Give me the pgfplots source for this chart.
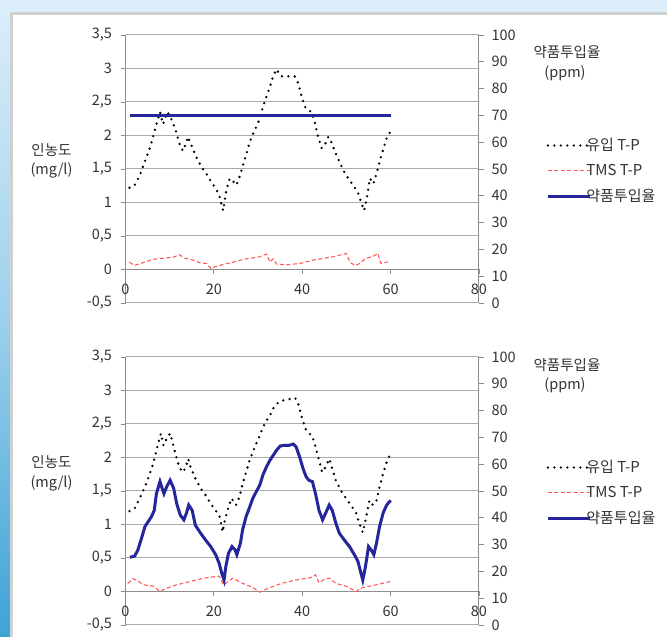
\documentclass[border=0pt]{standalone}
\usepackage{pgfplots}
\pgfplotsset{compat=1.18}
\usepackage{fontspec}
\setmainfont{Noto Sans CJK KR}
\definecolor{bgblue}{HTML}{DCEEFA}
\definecolor{leftdark}{HTML}{3EA3D6}
\definecolor{gridgray}{HTML}{AAAAAA}
\definecolor{axgray}{HTML}{8C8C8C}
\definecolor{navy}{HTML}{25259C}
\definecolor{tmsred}{HTML}{FF5A5A}
\definecolor{txt}{HTML}{333333}
\definecolor{bordergray}{HTML}{D0D0D0}

\pgfplotsset{
  base/.style={scale only axis, width=353.5pt, height=268pt, xmin=0, xmax=80, clip=false,
    tick label style={font=\fontsize{14.5}{16}\selectfont, text=txt},
    /pgf/number format/assume math mode=true, /pgf/number format/use comma,
    major tick length=5pt, tick align=outside, tick style={axgray, line width=0.8pt},
    axis line style={axgray, line width=1pt}},
  leftax/.style={base, ymin=-0.5, ymax=3.5, ytick={-0.5,0,0.5,1,1.5,2,2.5,3,3.5},
    xtick={0,20,40,60,80}, hide obscured x ticks=false, hide obscured y ticks=false,
    axis y line*=left, axis x line*=middle, ymajorgrids, grid style={gridgray, line width=1pt},
    yticklabel style={/pgf/number format/fixed, /pgf/number format/precision=1, xshift=-5pt},
    xticklabel style={yshift=-6pt}},
  rightax/.style={base, ymin=0, ymax=100, ytick={0,10,...,100}, axis y line*=right,
    axis x line=none, yticklabel style={xshift=4pt},
    legend style={draw=none, fill=none, anchor=north west, inner sep=0pt,
      font=\fontsize{15}{17}\selectfont, text=txt, row sep=8pt, column sep=-7pt,
      nodes={inner sep=2pt}},
    legend cell align=left,
    legend image code/.code={\draw[##1] (0pt,0pt) -- (42pt,0pt);}},
  tpin/.style={black, line width=2.6pt, line cap=round, dash pattern=on 0pt off 6.5pt},
  tms/.style={tmsred, line width=1.1pt, dash pattern=on 4pt off 2.5pt},
  dose/.style={navy, line width=3pt},
}

\begin{document}
\begin{tikzpicture}[x=1pt,y=1pt]
% background
\fill[bgblue] (0,0) rectangle (667,637);
\shade[top color=bgblue, bottom color=leftdark, middle color=bgblue!60!leftdark] (0,0) rectangle (10,637);
\fill[white] (10,0) rectangle (667,624.5);
\draw[bordergray, line width=2.5pt] (11.25,0) -- (11.25,623.25) -- (667,623.25);

% ===== TOP PANEL =====
\begin{axis}[leftax, at={(125.5pt,334pt)}, anchor=south west]
\addplot[tpin] coordinates {(0.9,1.22)(2,1.25)(3.2,1.40)(4.3,1.6)(5.3,1.77)(6.2,1.97)(7,2.17)(7.8,2.35)(8.5,2.17)(9.5,2.35)(10.4,2.24)(11.3,2.09)(12.2,1.88)(13,1.77)(13.8,1.9)(14.1,1.98)(14.9,1.86)(16,1.68)(17.2,1.53)(18.3,1.43)(19.4,1.31)(20.6,1.19)(21.3,1.08)(22.1,0.88)(22.8,1.18)(23.6,1.36)(24.3,1.32)(25.1,1.26)(25.8,1.38)(26.6,1.56)(27.4,1.73)(28.1,1.9)(28.9,2.03)(29.6,2.13)(30.4,2.25)(31.1,2.43)(31.9,2.58)(32.7,2.73)(33.4,2.88)(34.2,2.99)(34.9,2.9)(35.5,2.88)(36.3,2.88)(37.6,2.89)(38.3,2.88)(39.1,2.78)(39.8,2.6)(40.6,2.43)(41.3,2.38)(42.1,2.35)(42.9,2.18)(43.6,1.98)(44.4,1.81)(45.1,1.86)(45.9,1.98)(46.6,1.9)(47.4,1.76)(48.4,1.61)(49.3,1.48)(50.4,1.36)(51.5,1.26)(52.7,1.13)(53.4,0.99)(54,0.88)(54.6,1.06)(55.3,1.36)(56.1,1.28)(56.8,1.43)(57.6,1.63)(58.4,1.81)(59.1,1.96)(59.9,2.05)};
\addplot[tms] coordinates {(0.9,0.11)(2,0.06)(3.9,0.10)(6.2,0.15)(8.5,0.17)(10.7,0.18)(12.2,0.22)(13.4,0.17)(15.3,0.14)(16.8,0.10)(18.3,0.09)(19.4,0.01)(20.2,0.04)(21.3,0.06)(24.3,0.11)(27.4,0.16)(30.4,0.19)(31.9,0.23)(32.7,0.11)(33.4,0.16)(34.2,0.08)(36.4,0.07)(39.5,0.09)(42.5,0.14)(47,0.19)(50,0.24)(50.8,0.11)(51.9,0.06)(53.1,0.09)(54.2,0.16)(56.1,0.2)(57.1,0.24)(57.8,0.09)(59.1,0.11)(59.9,0.12)};
\end{axis}
\begin{axis}[rightax, at={(125.5pt,334pt)}, anchor=south west,
  legend style={at={(1.19,0.622)}}]
\addlegendimage{tpin}\addlegendentry{유입 T-P}
\addlegendimage{tms}\addlegendentry{TMS T-P}
\addplot[dose] coordinates {(1,70)(60,70)};
\addlegendentry{약품투입율}
\end{axis}

% ===== BOTTOM PANEL =====
\begin{axis}[leftax, at={(125.5pt,12pt)}, anchor=south west]
\addplot[tpin] coordinates {(0.9,1.2)(2.1,1.24)(3.2,1.39)(4.4,1.56)(5.5,1.76)(6.3,1.91)(7,2.11)(7.7,2.28)(8,2.36)(8.6,2.18)(9.3,2.28)(10.1,2.36)(10.9,2.16)(11.8,1.93)(12.8,1.78)(13.5,1.83)(14.2,1.98)(14.7,1.86)(15.8,1.69)(17,1.54)(18.1,1.44)(19.3,1.31)(20.4,1.21)(21.3,1.12)(22,0.89)(22.5,1.07)(23.3,1.26)(24,1.39)(25,1.29)(25.8,1.41)(26.5,1.61)(27.3,1.78)(28.1,1.96)(28.8,2.08)(29.6,2.21)(30.4,2.33)(31.1,2.45)(31.9,2.55)(32.7,2.63)(33.4,2.73)(34.2,2.8)(35.3,2.85)(36.5,2.86)(37.6,2.88)(38.4,2.89)(39.2,2.78)(39.9,2.6)(40.7,2.43)(41.5,2.36)(42.2,2.33)(43,2.16)(43.8,1.96)(44.5,1.78)(45.3,1.86)(46.1,1.98)(46.8,1.83)(47.6,1.66)(48.7,1.51)(49.9,1.39)(51,1.29)(52.2,1.17)(52.9,1.02)(53.7,0.88)(54.5,1.12)(55.2,1.36)(56,1.29)(56.8,1.36)(57.5,1.56)(58.3,1.76)(59.1,1.93)(60,2.06)};
\addplot[tms] coordinates {(0.5,0.12)(1.7,0.19)(2.8,0.16)(4,0.1)(6.3,0.08)(7.8,0.0)(9.3,0.05)(11.6,0.1)(14.7,0.15)(17.7,0.2)(21.2,0.23)(22.2,0.1)(23.5,0.16)(24.3,0.2)(26.2,0.13)(28.5,0.07)(30.4,-0.01)(32.3,0.05)(35.3,0.12)(38.4,0.17)(42.2,0.21)(43,0.25)(43.8,0.13)(44.9,0.18)(46.1,0.2)(47.6,0.12)(49.9,0.08)(52.2,0.0)(53.3,0.05)(54.5,0.07)(56.8,0.1)(60,0.15)};
\end{axis}
\begin{axis}[rightax, at={(125.5pt,12pt)}, anchor=south west,
  legend style={at={(1.19,0.622)}}]
\addlegendimage{tpin}\addlegendentry{유입 T-P}
\addlegendimage{tms}\addlegendentry{TMS T-P}
\addplot[dose] coordinates {(1,25.25)(2.1,25.75)(2.8,28)(3.6,32.25)(4.4,36.75)(5.1,38.5)(5.9,40.5)(6.5,42.75)(7,49)(7.8,53.5)(8.7,49)(9.3,51.5)(10.1,54)(10.9,51)(11.6,45.25)(12.4,41)(13.2,39.25)(13.8,41.75)(14.3,44.75)(15.1,42.75)(15.8,37.25)(17,34.25)(18.1,31.75)(19.3,29.25)(20.4,26.25)(21.2,23)(21.8,19.25)(22.3,16.75)(22.7,21.75)(23.3,26.75)(24.1,29.25)(24.8,28)(25.2,26.25)(26,30.5)(26.5,35.5)(27.3,40.5)(28.1,44)(28.8,47.25)(29.6,49.75)(30.4,52.25)(31.1,56)(31.9,59)(32.7,61.5)(33.4,63.25)(34.2,65.25)(35,66.75)(35.7,67)(36.9,67)(38,67.5)(38.6,66.5)(39.4,62.75)(40.2,58.25)(40.9,55.25)(41.5,54)(42.3,53.5)(43,49)(43.8,42.75)(44.6,39.25)(45.3,41.75)(46.1,44.75)(46.8,42.75)(47.6,38)(48.4,34.25)(49.5,31.75)(50.7,29.25)(51.8,26.25)(52.6,23.75)(53.3,19.25)(53.7,16.75)(54.3,21.75)(55,29.25)(55.6,28)(56.2,26.25)(56.8,30.5)(57.5,36.75)(58.3,41.75)(59.1,44.75)(60,46.5)};
\addlegendentry{약품투입율}
\end{axis}

% axis titles
\begin{scope}[every node/.style={font=\fontsize{14.5}{16}\selectfont, text=txt, inner sep=0pt}]
\node at (51.5,487) {인농도};
\node at (51.5,467) {(mg/l)};
\node at (567,585) {약품투입율};
\node at (565,564) {(ppm)};
\node at (51.5,175) {인농도};
\node at (51.5,154) {(mg/l)};
\node at (567,272) {약품투입율};
\node at (565,252) {(ppm)};
\end{scope}

\pgfresetboundingbox
\path (0,0) rectangle (667,637);
\end{tikzpicture}
\end{document}
